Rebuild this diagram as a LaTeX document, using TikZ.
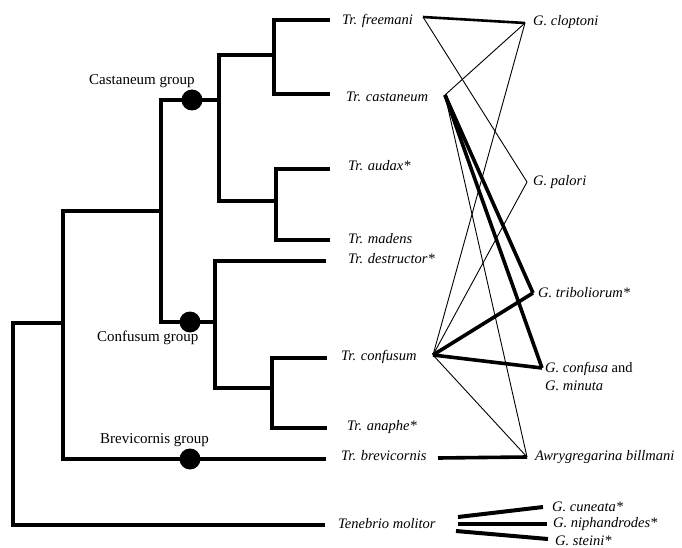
\documentclass[tikz,border=0pt]{standalone}
\usepackage{fontspec}
\setmainfont{Liberation Serif}
\begin{document}
\begin{tikzpicture}[x=1pt,y=-1pt,
  branch/.style={line width=4.2pt},
  taxon/.style={anchor=west,inner sep=0pt,font=\fontsize{14.5}{18}\selectfont\itshape},
  grp/.style={anchor=west,inner sep=0pt,font=\fontsize{15}{17}\selectfont},
  dot/.style={circle,fill=black,minimum size=21pt,inner sep=0pt},
  thinlink/.style={line width=0.9pt},
  thicklink/.style={line width=3.6pt},
  midlink/.style={line width=2.6pt},
  hostlink/.style={line width=4pt},
]
\useasboundingbox (0,0) rectangle (682,548);

% ---- tree: tip ends and internal vertices ----
\coordinate (efre) at (330,20);
\coordinate (ecas) at (330,94);
\coordinate (eaud) at (330,169);
\coordinate (emad) at (330,240);
\coordinate (edes) at (326,261);
\coordinate (econ) at (327,358);
\coordinate (eana) at (327,428);
\coordinate (ebre) at (326,459);
\coordinate (eten) at (325,525);

\coordinate (nfc)   at (274,55);
\coordinate (nad)   at (276,201);
\coordinate (ncast) at (219,100);
\coordinate (nca)   at (272,388);
\coordinate (nconf) at (215,322);
\coordinate (ncc)   at (161,211);
\coordinate (ntri)  at (63,323);
\coordinate (nroot) at (13,424);

\draw[branch] (efre) -| (nfc) |- (ecas);
\draw[branch] (eaud) -| (nad) |- (emad);
\draw[branch] (nfc) -| (ncast) |- (nad);
\draw[branch] (econ) -| (nca) |- (eana);
\draw[branch] (edes) -| (nconf) |- (nca);
\draw[branch] (ncast) -| (ncc) |- (nconf);
\draw[branch] (ncc) -| (ntri) |- (ebre);
\draw[branch] (ntri) -| (nroot) |- (eten);

\node[dot] (dcast) at (192,100) {};
\node[dot] (dconf) at (190,322) {};
\node[dot] (dbrev) at (190,459) {};

\node[grp] (gcast) at (89,81)  {Castaneum group};
\node[grp] (gconf) at (97,338) {Confusum group};
\node[grp] (gbrev) at (100,440) {Brevicornis group};

% ---- beetle names ----
\node[taxon] (tfre) at (342,21)  {Tr. freemani};
\node[taxon] (tcas) at (346,97)  {Tr. castaneum};
\node[taxon] (taud) at (348,166) {Tr. audax*};
\node[taxon] (tmad) at (348,239) {Tr. madens};
\node[taxon] (tdes) at (348,259) {Tr. destructor*};
\node[taxon] (tcon) at (341,357) {Tr. confusum};
\node[taxon] (tana) at (347,427) {Tr. anaphe*};
\node[taxon] (tbre) at (341,456) {Tr. brevicornis};
\node[taxon] (tten) at (338,524) {Tenebrio molitor};

% ---- gregarine names ----
\node[taxon] (gclo) at (533,22)  {G. cloptoni};
\node[taxon] (gpal) at (533,182) {G. palori};
\node[taxon] (gtri) at (538,293) {G. triboliorum*};
\node[taxon,align=left] (gcm) at (545,376) {G. confusa \textup{and}\\G. minuta};
\node[taxon] (gbil) at (535,457) {Awrygregarina billmani};
\node[taxon] (gcun) at (552,507) {G. cuneata*};
\node[taxon] (gnip) at (553,524) {G. niphandrodes*};
\node[taxon] (gste) at (555,541) {G. steini*};

% ---- association end points ----
\coordinate (pfre) at (423,17);
\coordinate (pcas) at (445,95);
\coordinate (pcon) at (433,355);
\coordinate (pbre) at (438,458);
\coordinate (qclo) at (525,23);
\coordinate (qpal) at (527,182);
\coordinate (qtri) at (533,293);
\coordinate (qcm)  at (542,368);
\coordinate (qbil) at (527,457);

\draw[midlink]   (pfre) -- (qclo);
\draw[thinlink]  (pfre) -- (qpal);
\draw[thinlink]  (pcas) -- (qclo);
\draw[thicklink] (pcas) -- (qtri);
\draw[thicklink] (pcas) -- (qcm);
\draw[thinlink]  (pcas) -- (qbil);
\draw[thinlink]  (pcon) -- (qclo);
\draw[thinlink]  (pcon) -- (qpal);
\draw[thicklink] (pcon) -- (qtri);
\draw[thicklink] (pcon) -- (qcm);
\draw[thinlink]  (pcon) -- (qbil);
\draw[thicklink] (pbre) -- (qbil);

% ---- Tenebrio gregarines ----
\coordinate (pten1) at (458,517);
\coordinate (pten2) at (458,524);
\coordinate (pten3) at (456,531);
\coordinate (qcun)  at (543,507);
\coordinate (qnip)  at (547,524);
\coordinate (qste)  at (548,539);
\draw[hostlink] (pten1) -- (qcun);
\draw[hostlink] (pten2) -- (qnip);
\draw[hostlink] (pten3) -- (qste);
\end{tikzpicture}
\end{document}
